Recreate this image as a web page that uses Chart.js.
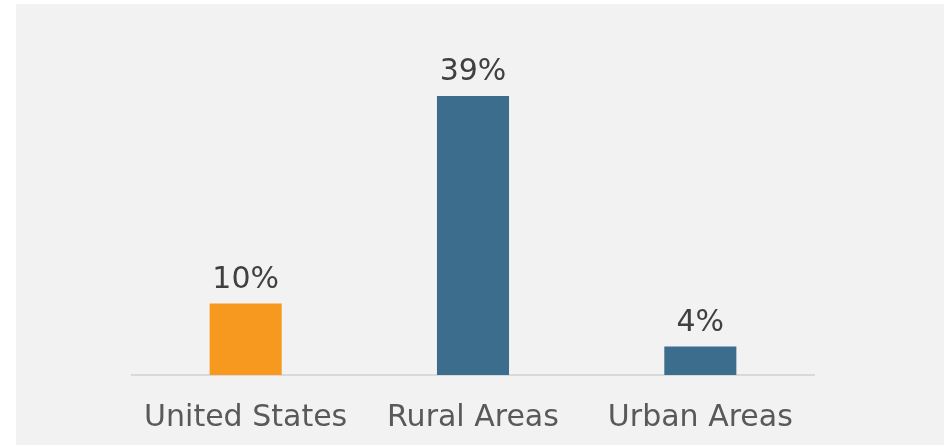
<!DOCTYPE html>
<html>
<head>
<meta charset="utf-8">
<script src="https://cdn.jsdelivr.net/npm/chart.js@4/dist/chart.umd.min.js"></script>
<style>
  html, body { margin: 0; padding: 0; background: #ffffff; }
  body { width: 949px; height: 446px; position: relative; overflow: hidden; }
  #panel { position: absolute; left: 16px; top: 4px; width: 928px; height: 441px; background: #f2f2f2; }
  #chart { display: block; }
</style>
</head>
<body>
<div id="panel"><canvas id="chart" width="928" height="441"></canvas></div>
<script>
// Share of population, by area
const categories = ['United States', 'Rural Areas', 'Urban Areas'];
const shares = [10, 39, 4];
const barColors = ['#F7991E', '#3D6D8D', '#3D6D8D'];

const FONT = '"DejaVu Sans", Verdana, sans-serif';

// Percentage labels above each bar, positioned from the bar elements
const valueLabels = {
  id: 'valueLabels',
  afterDatasetsDraw(chart) {
    const ctx = chart.ctx;
    const meta = chart.getDatasetMeta(0);
    ctx.save();
    ctx.font = '30px ' + FONT;
    ctx.fillStyle = '#404040';
    ctx.textAlign = 'center';
    ctx.textBaseline = 'alphabetic';
    meta.data.forEach((bar, i) => {
      ctx.fillText(shares[i] + '%', bar.x, bar.y - 15.5);
    });
    ctx.restore();
  }
};

new Chart(document.getElementById('chart'), {
  type: 'bar',
  data: {
    labels: categories,
    datasets: [{
      data: shares,
      backgroundColor: barColors,
      borderWidth: 0,
      barPercentage: 0.317,
      categoryPercentage: 1.0
    }]
  },
  options: {
    responsive: false,
    animation: false,
    devicePixelRatio: 1,
    layout: { padding: { left: 116, right: 130, top: 49, bottom: 0 } },
    plugins: {
      legend: { display: false },
      tooltip: { enabled: false },
      title: { display: false }
    },
    scales: {
      x: {
        grid: { display: false, drawTicks: false },
        border: { display: true, color: '#d9d9d9', width: 2 },
        ticks: {
          color: '#595959',
          font: { family: FONT, size: 30 },
          padding: 25,
          maxRotation: 0,
          autoSkip: false
        },
        // fixed band below the baseline for the category names
        afterFit(scale) { scale.height = 70; }
      },
      y: {
        display: false,
        min: 0,
        max: 45
      }
    }
  },
  plugins: [valueLabels]
});
</script>
</body>
</html>
